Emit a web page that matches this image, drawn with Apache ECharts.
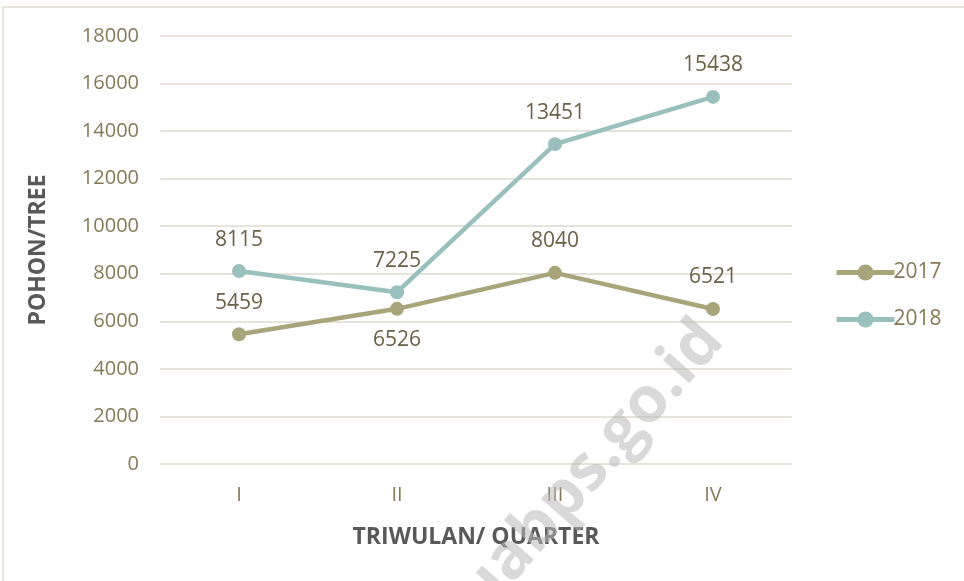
<!DOCTYPE html>
<html>
<head>
<meta charset="utf-8">
<script src="https://cdn.jsdelivr.net/npm/echarts@6/dist/echarts.min.js"></script>
<style>
  html, body { margin: 0; padding: 0; background: #fff; }
  #main { width: 964px; height: 581px; }
</style>
</head>
<body>
<div id="main"></div>
<script>
// data
const quarters = ['I', 'II', 'III', 'IV']
const trees2017 = [5459, 6526, 8040, 6521]
const trees2018 = [8115, 7225, 13451, 15438]
// label side for 2017 points (6526 sits under the point)
const pos2017 = ['top', 'bottom', 'top', 'top']

const labelColor = '#857a58'
const valueColor = '#6b6146'
const font = 'Open Sans, Noto Sans, sans-serif'

const myChart = echarts.init(document.getElementById('main'))

const option = {
  backgroundColor: '#fff',
  animation: false,
  grid: { left: 160, right: 172, top: 36, bottom: 117 },
  legend: {
    orient: 'vertical',
    left: 829,
    top: 257,
    itemWidth: 58,
    itemHeight: 20,
    itemGap: 26,
    lineStyle: { width: 5 },
    textStyle: { color: labelColor, fontSize: 21, fontFamily: font, padding: [0, 0, 0, -6] },
    data: ['2017', '2018']
  },
  xAxis: {
    type: 'category',
    data: quarters,
    axisLine: { show: false },
    axisTick: { show: false },
    axisLabel: { color: labelColor, fontSize: 20, fontFamily: font, margin: 21 },
    name: 'TRIWULAN/ QUARTER',
    nameLocation: 'middle',
    nameGap: 62,
    nameTextStyle: { color: '#595959', fontSize: 23, fontWeight: 'bold', fontFamily: font }
  },
  yAxis: {
    type: 'value',
    min: 0,
    max: 18000,
    interval: 2000,
    axisLine: { show: false },
    axisTick: { show: false },
    axisLabel: { color: labelColor, fontSize: 20, fontFamily: font, margin: 21, formatter: v => String(v) },
    splitLine: { lineStyle: { color: '#e6e3da', width: 2 } },
    name: 'POHON/TREE',
    nameLocation: 'middle',
    nameGap: 110,
    nameTextStyle: { color: '#595959', fontSize: 23, fontWeight: 'bold', fontFamily: font }
  },
  series: [
    {
      name: '2017',
      type: 'line',
      data: trees2017.map((v, i) => ({ value: v, label: { position: pos2017[i] } })),
      symbol: 'circle',
      symbolSize: 14,
      lineStyle: { color: '#a9a57b', width: 4.5 },
      itemStyle: { color: '#a9a57b' },
      label: { show: true, color: valueColor, fontSize: 21, fontFamily: font, distance: 14 }
    },
    {
      name: '2018',
      type: 'line',
      data: trees2018,
      symbol: 'circle',
      symbolSize: 14,
      lineStyle: { color: '#99c0bd', width: 4.5 },
      itemStyle: { color: '#99c0bd' },
      label: { show: true, position: 'top', color: valueColor, fontSize: 21, fontFamily: font, distance: 14 }
    }
  ],
  graphic: [
    {
      // frame of the original figure
      type: 'rect',
      shape: { x: 3, y: 7, width: 1000, height: 620 },
      style: { fill: null, stroke: '#e6e4dc', lineWidth: 2 },
      silent: true
    },
    {
      // watermark
      type: 'text',
      x: 712,
      y: 330,
      rotation: Math.PI * 0.27,
      z: 100,
      silent: true,
      style: {
        text: 'papuabps.go.id',
        align: 'right',
        verticalAlign: 'middle',
        fontSize: 64,
        fontWeight: 'bold',
        fontFamily: font,
        fill: 'rgba(185, 185, 185, 0.55)'
      }
    }
  ]
}

myChart.setOption(option)
</script>
</body>
</html>
